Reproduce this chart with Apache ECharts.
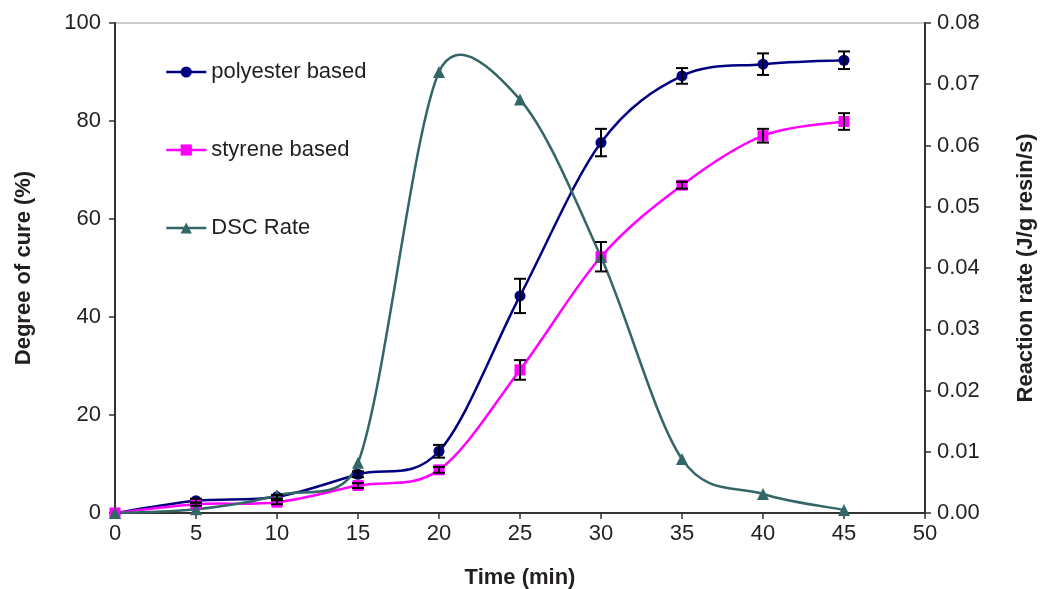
<!DOCTYPE html>
<html>
<head>
<meta charset="utf-8">
<script src="https://cdn.jsdelivr.net/npm/echarts@6/dist/echarts.min.js"></script>
<style>
html,body{margin:0;padding:0;background:#fff;}
#chart{width:1040px;height:589px;}
</style>
</head>
<body>
<div id="chart"></div>
<script>
const times = [0, 5, 10, 15, 20, 25, 30, 35, 40, 45];
const polyester = [0, 2.5, 3.3, 7.9, 12.6, 44.3, 75.6, 89.2, 91.6, 92.4];
const polyesterErr = [0, 0.4, 0.4, 0.6, 1.3, 3.5, 2.8, 1.6, 2.2, 1.8];
const styrene = [0, 1.8, 2.2, 5.6, 8.8, 29.2, 52.3, 66.9, 77.0, 79.9];
const styreneErr = [0, 0.3, 0.4, 0.5, 0.6, 2.0, 3.0, 0.7, 1.4, 1.7];
const dscRate = [0, 0.0006, 0.0029, 0.0082, 0.0720, 0.0675, 0.0418, 0.0088, 0.0031, 0.0005];
const seriesNames = ['polyester based', 'styrene based', 'DSC Rate'];
const xTitle = 'Time (min)';
const yLeftTitle = 'Degree of cure (%)';
const yRightTitle = 'Reaction rate (J/g resin/s)';

const FONT = '"Liberation Sans", Arial, sans-serif';
const TXT = '#231f20';
const C_POLY = '#000080', C_STY = '#ff00ff', C_DSC = '#336666';

function pairs(ys) { return times.map((t, i) => [t, ys[i]]); }
function errData(ys, es) {
  return times.map((t, i) => [t, ys[i] - es[i], ys[i] + es[i]]).filter((d, i) => es[i] > 0);
}
function errRender(params, api) {
  const x = api.value(0);
  const lo = api.coord([x, api.value(1)]);
  const hi = api.coord([x, api.value(2)]);
  const w = 6;
  const st = { stroke: '#000', lineWidth: 2 };
  return {
    type: 'group',
    children: [
      { type: 'line', shape: { x1: lo[0], y1: lo[1], x2: hi[0], y2: hi[1] }, style: st },
      { type: 'line', shape: { x1: lo[0] - w, y1: lo[1], x2: lo[0] + w, y2: lo[1] }, style: st },
      { type: 'line', shape: { x1: hi[0] - w, y1: hi[1], x2: hi[0] + w, y2: hi[1] }, style: st }
    ]
  };
}
// spreadsheet-style smoothed line: Catmull-Rom tangents (1/6), arm capped at half the segment
function curveRender(ys, color) {
  return function (params, api) {
    const i = params.dataIndex;
    const n = ys.length;
    if (i >= n - 1) return null;
    const P = k => { k = Math.max(0, Math.min(n - 1, k)); return api.coord([times[k], ys[k]]); };
    const d = (a, b) => Math.hypot(b[0] - a[0], b[1] - a[1]);
    const p0 = P(i - 1), p1 = P(i), p2 = P(i + 1), p3 = P(i + 2);
    const d12 = d(p1, p2), d02 = d(p0, p2), d13 = d(p1, p3);
    const f1 = d02 > 0 ? Math.min(1 / 6, d12 / (2 * d02)) : 0;
    const f2 = d13 > 0 ? Math.min(1 / 6, d12 / (2 * d13)) : 0;
    const cp1 = [p1[0] + (p2[0] - p0[0]) * f1, p1[1] + (p2[1] - p0[1]) * f1];
    const cp2 = [p2[0] - (p3[0] - p1[0]) * f2, p2[1] - (p3[1] - p1[1]) * f2];
    return {
      type: 'bezierCurve',
      shape: {
        x1: p1[0], y1: p1[1], x2: p2[0], y2: p2[1],
        cpx1: cp1[0], cpy1: cp1[1], cpx2: cp2[0], cpy2: cp2[1]
      },
      style: { stroke: color, lineWidth: 2.5, fill: null }
    };
  };
}

const chart = echarts.init(document.getElementById('chart'), null, { renderer: 'canvas' });
chart.setOption({
  animation: false,
  backgroundColor: '#fff',
  textStyle: { fontFamily: FONT, color: TXT },
  grid: { left: 115, right: 115, top: 23, bottom: 76, show: true, borderColor: '#999', borderWidth: 1, outerBoundsMode: 'none', containLabel: false },
  legend: {
    data: [
      { name: seriesNames[0], lineStyle: { color: C_POLY, width: 2.5, opacity: 1 } },
      { name: seriesNames[1], lineStyle: { color: C_STY, width: 2.5, opacity: 1 } },
      { name: seriesNames[2], lineStyle: { color: C_DSC, width: 2.5, opacity: 1 } }
    ],
    orient: 'vertical',
    left: 160,
    top: 56,
    itemWidth: 40,
    itemHeight: 14,
    itemGap: 56,
    textStyle: { fontSize: 22, color: TXT, fontFamily: FONT }
  },
  xAxis: {
    type: 'value', min: 0, max: 50, interval: 5,
    name: xTitle, nameLocation: 'middle', nameGap: 54,
    nameTextStyle: { fontSize: 22, fontWeight: 'bold', color: TXT, fontFamily: FONT },
    axisLine: { show: true, lineStyle: { color: '#333', width: 2 } },
    axisTick: { show: true, length: 6, lineStyle: { color: '#333', width: 1.5 } },
    axisLabel: { fontSize: 22, color: TXT, margin: 10, fontFamily: FONT },
    splitLine: { show: false }
  },
  yAxis: [
    {
      type: 'value', min: 0, max: 100, interval: 20, position: 'left',
      name: yLeftTitle, nameLocation: 'middle', nameGap: 80, nameRotate: 90,
      nameTextStyle: { fontSize: 22, fontWeight: 'bold', color: TXT, fontFamily: FONT },
      axisLine: { show: true, lineStyle: { color: '#333', width: 2 } },
      axisTick: { show: true, length: 6, lineStyle: { color: '#333', width: 1.5 } },
      axisLabel: { fontSize: 22, color: TXT, margin: 14, fontFamily: FONT },
      splitLine: { show: false }
    },
    {
      type: 'value', min: 0, max: 0.08, interval: 0.01, position: 'right',
      name: yRightTitle, nameLocation: 'middle', nameGap: 90, nameRotate: 90,
      nameTextStyle: { fontSize: 22, fontWeight: 'bold', color: TXT, fontFamily: FONT },
      axisLine: { show: true, lineStyle: { color: '#333', width: 2 } },
      axisTick: { show: true, length: 6, lineStyle: { color: '#333', width: 1.5 } },
      axisLabel: { fontSize: 22, color: TXT, margin: 12, fontFamily: FONT, formatter: v => v.toFixed(2) },
      splitLine: { show: false }
    }
  ],
  series: [
    {
      name: seriesNames[0], type: 'line', yAxisIndex: 0, data: pairs(polyester),
      symbol: 'circle', symbolSize: 11,
      lineStyle: { color: C_POLY, width: 0, opacity: 0 }, itemStyle: { color: C_POLY }, z: 6
    },
    {
      name: seriesNames[1], type: 'line', yAxisIndex: 0, data: pairs(styrene),
      symbol: 'rect', symbolSize: 11,
      lineStyle: { color: C_STY, width: 0, opacity: 0 }, itemStyle: { color: C_STY }, z: 6
    },
    {
      name: seriesNames[2], type: 'line', yAxisIndex: 1, data: pairs(dscRate),
      symbol: 'triangle', symbolSize: 12,
      lineStyle: { color: C_DSC, width: 0, opacity: 0 }, itemStyle: { color: C_DSC }, z: 7
    },
    { type: 'custom', yAxisIndex: 0, data: pairs(polyester), renderItem: curveRender(polyester, C_POLY), z: 3, silent: true },
    { type: 'custom', yAxisIndex: 0, data: pairs(styrene), renderItem: curveRender(styrene, C_STY), z: 3, silent: true },
    { type: 'custom', yAxisIndex: 1, data: pairs(dscRate), renderItem: curveRender(dscRate, C_DSC), z: 4, silent: true },
    { type: 'custom', yAxisIndex: 0, data: errData(polyester, polyesterErr), renderItem: errRender, z: 8, silent: true },
    { type: 'custom', yAxisIndex: 0, data: errData(styrene, styreneErr), renderItem: errRender, z: 8, silent: true }
  ]
});
</script>
</body>
</html>
